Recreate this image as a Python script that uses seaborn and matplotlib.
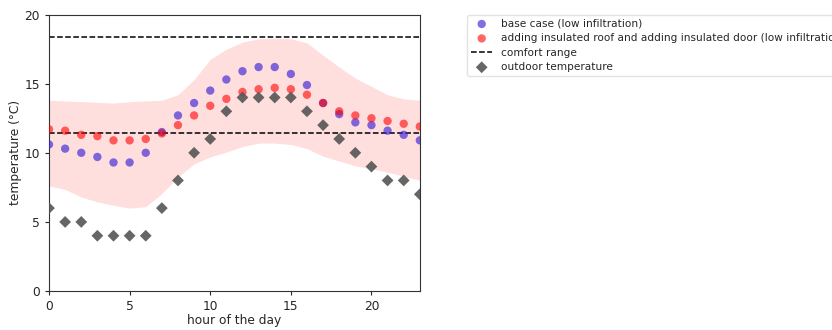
import matplotlib
matplotlib.use("Agg")
import matplotlib.pyplot as plt
import numpy as np
import pandas as pd
import seaborn as sns

hours = list(range(24))

base_case = [10.6, 10.3, 10.0, 9.7, 9.3, 9.3, 10.0, 11.5, 12.7, 13.6, 14.5, 15.3,
             15.9, 16.2, 16.2, 15.7, 14.9, 13.6, 12.8, 12.2, 12.0, 11.6, 11.3, 10.9]
insulated = [11.7, 11.6, 11.3, 11.2, 10.9, 10.9, 11.0, 11.4, 12.0, 12.7, 13.4, 13.9,
             14.4, 14.6, 14.7, 14.6, 14.2, 13.6, 13.0, 12.7, 12.5, 12.3, 12.1, 11.9]
outdoor = [6, 5, 5, 4, 4, 4, 4, 6, 8, 10, 11, 13, 14, 14, 14, 14, 13, 12, 11, 10, 9, 8, 8, 7]

band_upper = [13.8, 13.75, 13.7, 13.65, 13.6, 13.7, 13.75, 13.8, 14.2, 15.3, 16.75, 17.5,
              18.0, 18.25, 18.3, 18.25, 17.95, 17.05, 16.2, 15.4, 14.8, 14.2, 13.9, 13.8]
band_lower = [7.6, 7.35, 6.8, 6.45, 6.2, 6.0, 6.1, 7.05, 8.25, 9.2, 9.7, 10.05,
              10.45, 10.7, 10.7, 10.6, 10.3, 9.75, 9.4, 9.05, 8.85, 8.6, 8.3, 8.0]

comfort_low = 11.4
comfort_high = 18.4

df = pd.DataFrame({"hour": hours, "base": base_case, "insulated": insulated,
                   "outdoor": outdoor, "upper": band_upper, "lower": band_lower})

sns.set_style("ticks")
plt.rcParams["font.family"] = ["DejaVu Sans"]

fig = plt.figure(figsize=(8.32, 3.30), dpi=100)
ax = fig.add_axes([0.0589, 0.118, 0.4457, 0.838])

ax.fill_between(df["hour"], df["lower"], df["upper"], color="red", alpha=0.13, linewidth=0)

sns.scatterplot(data=df, x="hour", y="base", ax=ax, color="#3b22d6", alpha=0.65,
                s=36, edgecolor="none", label="base case (low infiltration)", zorder=3)
sns.scatterplot(data=df, x="hour", y="insulated", ax=ax, color="red", alpha=0.6,
                s=36, edgecolor="none",
                label="adding insulated roof and adding insulated door (low infiltration)", zorder=3)
ax.axhline(comfort_high, color="black", linestyle="--", linewidth=1.1, label="comfort range", zorder=2)
ax.axhline(comfort_low, color="black", linestyle="--", linewidth=1.1, zorder=2)
sns.scatterplot(data=df, x="hour", y="outdoor", ax=ax, color="#555555", marker="D",
                s=36, edgecolor="none", alpha=0.9, label="outdoor temperature", zorder=3)

ax.set_xlim(0, 23)
ax.set_ylim(0, 20)
ax.set_xticks([0, 5, 10, 15, 20])
ax.set_yticks([0, 5, 10, 15, 20])
ax.tick_params(labelsize=8.8, length=3)
ax.set_xlabel("hour of the day", fontsize=8.8, labelpad=1)
ax.set_ylabel("temperature (°C)", fontsize=8.8, labelpad=2)
for sp in ax.spines.values():
    sp.set_visible(True)
    sp.set_color("#333333")

ax.legend(loc="upper left", bbox_to_anchor=(1.127, 1.0), borderaxespad=0,
          fontsize=7.6, labelspacing=0.42, frameon=True, edgecolor="#dddddd")

fig.savefig("out.png", dpi=100)
